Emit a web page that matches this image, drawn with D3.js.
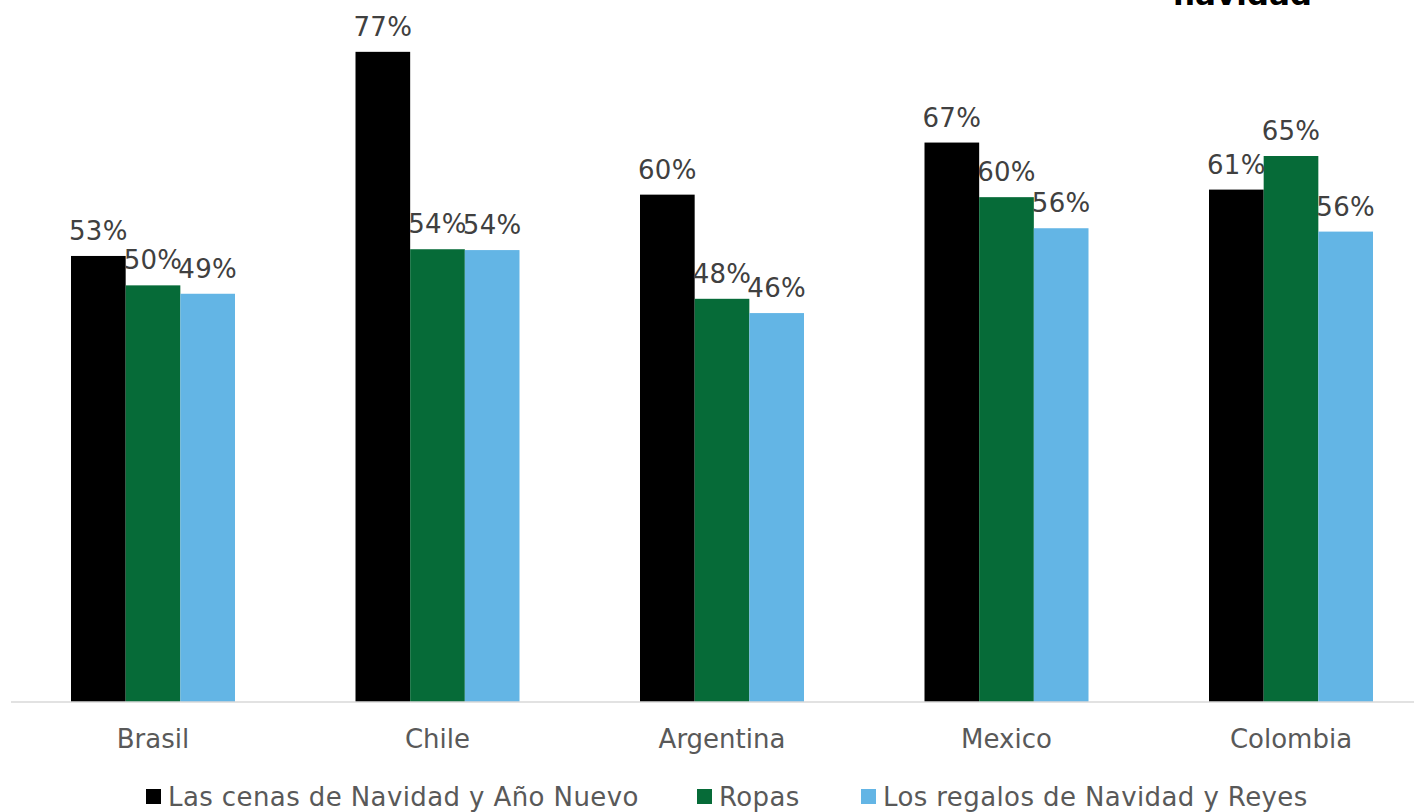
<!DOCTYPE html>
<html><head><meta charset="utf-8">
<script src="https://cdn.jsdelivr.net/npm/d3@7"></script>
<style>body{margin:0;background:#fff}svg{display:block}</style>
</head><body>
<svg id="c" width="1414" height="812"></svg>
<script>
const categories = ["Brasil","Chile","Argentina","Mexico","Colombia"];
const seriesNames = ["Las cenas de Navidad y Año Nuevo","Ropas","Los regalos de Navidad y Reyes"];
const cenas   = [53.1,77.4,60.4,66.6,61.0];
const ropas   = [49.6,53.9,48.0,60.1,65.0];
const regalos = [48.6,53.8,46.3,56.4,56.0];
const seriesValues = [cenas, ropas, regalos];
const colors = ["#000000","#066b38","#63b5e5"];
const titleTail = "navidad";

const svg = d3.select("#c");
const font = "DejaVu Sans, Verdana, sans-serif";
const baseY = 702;
const y = d3.scaleLinear().domain([0,80]).range([baseY, 30]);
const x0 = d3.scaleBand().domain(categories).range([10.75, 1433.25]).paddingInner(0).paddingOuter(0);
const groupW = 164;
const x1 = d3.scaleBand().domain(d3.range(seriesNames.length)).range([0, groupW]).padding(0);

// title remnant (upper part lies above the picture, as in the reference)
svg.append("text").attr("x",1242.5).attr("y",5).attr("text-anchor","middle")
  .attr("font-family",font).attr("font-weight","bold").attr("font-size",31)
  .attr("fill","#000").text(titleTail);

const g = svg.append("g");
categories.forEach((c,ci)=>{
  const gx = x0(c) + (x0.bandwidth()-groupW)/2;
  seriesValues.forEach((vals,si)=>{
    const v = vals[ci];
    g.append("rect").attr("x",gx+x1(si)).attr("y",y(v))
      .attr("width",x1.bandwidth()).attr("height",baseY-y(v)).attr("fill",colors[si]);
  });
});
categories.forEach((c,ci)=>{
  const gx = x0(c) + (x0.bandwidth()-groupW)/2;
  seriesValues.forEach((vals,si)=>{
    const v = vals[ci];
    g.append("text").attr("x",gx+x1(si)+x1.bandwidth()/2).attr("y",y(v)-16)
      .attr("text-anchor","middle").attr("font-family",font).attr("font-size",26)
      .attr("letter-spacing",0.3)
      .attr("fill","#404040").text(Math.round(v)+"%");
  });
});

// axis
const xAxis = d3.axisBottom(x0).tickSize(0).tickPadding(0);
const ax = svg.append("g").attr("transform",`translate(0,${baseY})`).call(xAxis);
ax.select(".domain").attr("d","M11,0H1414").attr("stroke","#d9d9d9").attr("stroke-width",1.5);
ax.selectAll(".tick text").attr("y",46).attr("dy",null).attr("font-family",font)
  .attr("font-size",26).attr("fill","#595959");

// legend
const legendX = [146, 697, 861];
const lg = svg.append("g");
seriesNames.forEach((n,i)=>{
  lg.append("rect").attr("x",legendX[i]).attr("y",789).attr("width",15).attr("height",15).attr("fill",colors[i]);
  lg.append("text").attr("x",legendX[i]+22).attr("y",806).attr("font-family",font)
    .attr("font-size",26).attr("letter-spacing",0.4).attr("fill","#595959").text(n);
});
</script>
</body></html>
